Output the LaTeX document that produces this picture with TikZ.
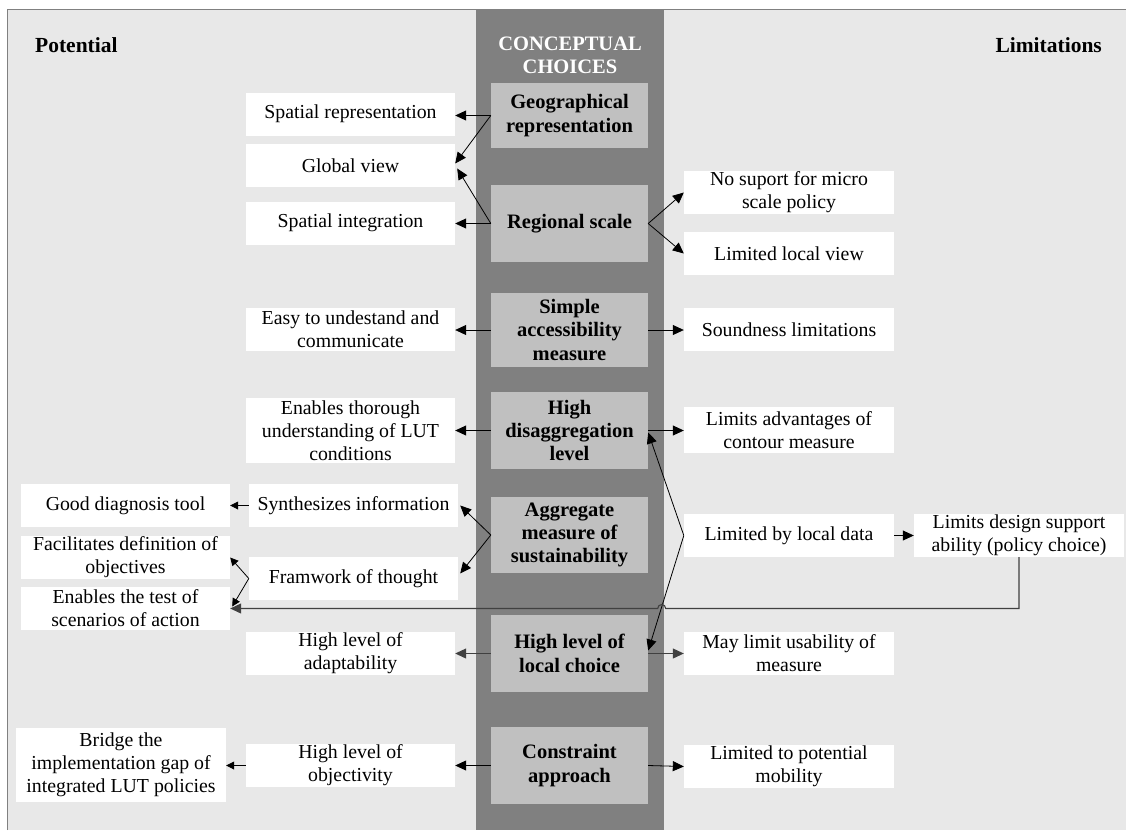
\documentclass[tikz,border=0pt]{standalone}
\usepackage{fontspec}
\setmainfont{Liberation Serif}
\usetikzlibrary{arrows.meta,calc}
\definecolor{panel}{HTML}{E8E8E8}
\definecolor{colgray}{HTML}{808080}
\definecolor{boxgray}{HTML}{C0C0C0}
\definecolor{linegray}{HTML}{404040}
\newcommand\regsz{\fontsize{19.8}{23}\selectfont}
\newcommand\boldsz{\fontsize{20.5}{23.3}\selectfont\bfseries}
\newcommand\headsz{\fontsize{21.5}{24}\selectfont\bfseries}
\begin{document}
\begin{tikzpicture}[x=1pt,y=1pt,
  wbox/.style={fill=white, inner sep=0pt, align=center, font=\regsz, minimum height=43pt, minimum width=209pt},
  cbox/.style={fill=boxgray, inner sep=0pt, align=center, font=\boldsz, minimum width=157pt},
  arr/.style={-{Triangle[length=11pt,width=10pt]}, line width=0.8pt},
  sarr/.style={-{Triangle[length=8pt,width=8pt]}, line width=0.8pt},
  garr/.style={arr, draw=linegray, line width=1.1pt},
  ]
\useasboundingbox (0,0) rectangle (1126,-830);
\fill[white] (0,0) rectangle (1126,-830);
\fill[panel] (7,-9) rectangle (1126,-830);
\fill[colgray] (476,-9) rectangle (664,-830);
\draw[colgray, line width=1pt] (7,-830) -- (7,-9) -- (1126,-9);

% headings
\node[font=\headsz, anchor=west, inner sep=0pt] (pot) at (35,-45) {Potential};
\node[font=\headsz, anchor=east, inner sep=0pt] (limh) at (1102,-45) {Limitations};
\node[font=\boldsz, text=white, align=center, inner sep=0pt] (cc) at (570,-55) {CONCEPTUAL\\CHOICES};

% conceptual choices
\node[cbox, minimum height=65pt] (geo) at (569.5,-115.5) {Geographical\\representation};
\node[cbox, minimum height=77pt] (reg) at (569.5,-223.5) {Regional scale};
\node[cbox, minimum height=74pt] (simple) at (569.5,-330) {Simple\\accessibility\\measure};
\node[cbox, minimum height=77pt] (disag) at (569.5,-430.5) {High\\disaggregation\\level};
\node[cbox, minimum height=76pt] (aggr) at (569.5,-535) {Aggregate\\measure of\\sustainability};
\node[cbox, minimum height=77pt] (local) at (569.5,-653.5) {High level of\\local choice};
\node[cbox, minimum height=77pt] (constr) at (569.5,-765.5) {Constraint\\approach};

% potential, inner column
\node[wbox] (sr) at (350.5,-114) {Spatial representation};
\node[wbox] (gv) at (350.5,-165.5) {Global view};
\node[wbox] (si) at (350.5,-223) {Spatial integration};
\node[wbox] (easy) at (350.5,-329.5) {Easy to undestand and\\communicate};
\node[wbox, minimum height=65pt] (enab) at (350.5,-430.5) {Enables thorough\\understanding of LUT\\conditions};
\node[wbox] (synth) at (353.5,-505.5) {Synthesizes information};
\node[wbox] (fram) at (353.5,-578.5) {Framwork of thought};
\node[wbox] (adapt) at (350.5,-653.5) {High level of\\adaptability};
\node[wbox] (obj) at (350.5,-765.5) {High level of\\objectivity};

% potential, outer column
\node[wbox] (good) at (125.5,-505.5) {Good diagnosis tool};
\node[wbox] (facil) at (125.5,-557.5) {Facilitates definition of\\objectives};
\node[wbox] (test) at (125.5,-608.5) {Enables the test of\\scenarios of action};
\node[wbox, minimum width=210pt, minimum height=74pt] (bridge) at (121,-765) {Bridge the\\implementation gap of\\integrated LUT policies};

% limitations
\node[wbox, minimum width=210pt] (nosup) at (789,-192.5) {No suport for micro\\scale policy};
\node[wbox, minimum width=210pt] (llv) at (789,-253.5) {Limited local view};
\node[wbox, minimum width=210pt] (sound) at (789,-329.5) {Soundness limitations};
\node[wbox, minimum width=210pt, minimum height=46pt] (limadv) at (789,-430) {Limits advantages of\\contour measure};
\node[wbox, minimum width=210pt] (lbld) at (789,-535.5) {Limited by local data};
\node[wbox, minimum width=210pt] (may) at (789,-653.5) {May limit usability of\\measure};
\node[wbox, minimum width=210pt] (ltp) at (789,-766.5) {Limited to potential\\mobility};
\node[wbox, minimum width=210pt] (lds) at (1019,-535.5) {Limits design support\\ability (policy choice)};

% connectors
\draw[arr] (geo.west) -- (geo.west -| sr.east);
\draw[arr] (geo.west) -- ($(gv.east)+(0,2)$);
\draw[arr] (reg.west) -- (reg.west -| si.east);
\draw[arr] (reg.west) -- ($(gv.east)+(2,-3)$);
\draw[arr] (reg.east) -- (nosup.west);
\draw[arr] (reg.east) -- (llv.west);

\draw[arr] (simple.west) -- (simple.west -| easy.east);
\draw[arr] (simple.east) -- (simple.east -| sound.west);
\draw[arr] (disag.west) -- (disag.west -| enab.east);
\draw[arr] (disag.east) -- (disag.east -| limadv.west);

\draw[sarr] (synth.west) -- (synth.west -| good.east);
\draw[arr] (aggr.west) -- ($(synth.east)+(2,0)$);
\draw[arr] (aggr.west) -- ($(fram.east)+(2,5)$);
\draw[sarr] (fram.west) -- (facil.east);
\draw[sarr] (fram.west) -- ($(test.east)+(2,2)$);

\draw[arr] (lbld.west) -- ($(disag.east)+(0,-2)$);
\draw[arr] (lbld.west) -- ($(local.east)+(0,3)$);
\draw[arr] (lbld.east) -- (lbld.east -| lds.west);

\coordinate (hopR) at (665.7,-608.5);
\draw[garr] (lds.south) -- (lds.south |- test.east) -- (hopR)
  arc[start angle=0, end angle=180, radius=4] -- (test.east);

\draw[garr] (local.west) -- (local.west -| adapt.east);
\draw[garr] (local.east) -- (local.east -| may.west);

\draw[arr] (constr.west) -- (constr.west -| obj.east);
\draw[sarr] (obj.west) -- (obj.west -| bridge.east);
\draw[arr] (constr.east) -- (ltp.west);
\end{tikzpicture}
\end{document}
